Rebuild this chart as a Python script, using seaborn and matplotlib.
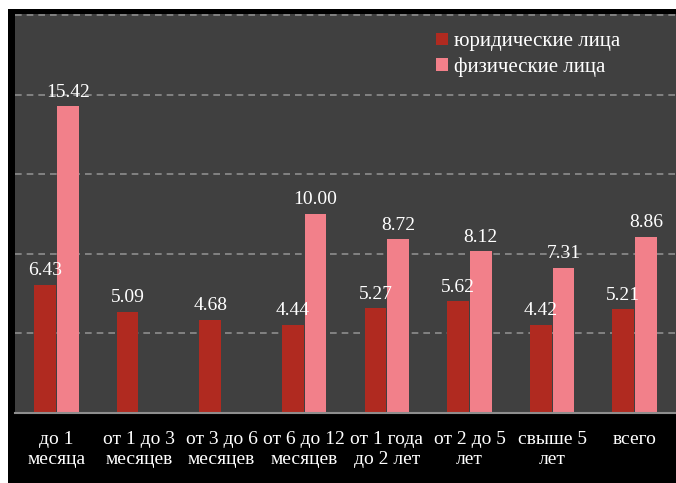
import numpy as np
import pandas as pd
import matplotlib
matplotlib.use("Agg")
import matplotlib.pyplot as plt
from matplotlib.patches import Rectangle
from matplotlib.ticker import FixedLocator
import seaborn as sns

# данные
categories = ["до 1\nмесяца", "от 1 до 3\nмесяцев", "от 3 до 6\nмесяцев", "от 6 до 12\nмесяцев",
              "от 1 года\nдо 2 лет", "от 2 до 5\nлет", "свыше 5\nлет", "всего"]
legal = [6.43, 5.09, 4.68, 4.44, 5.27, 5.62, 4.42, 5.21]
physical = [15.42, np.nan, np.nan, 10.00, 8.72, 8.12, 7.31, 8.86]
series_names = ["юридические лица", "физические лица"]

df = pd.DataFrame({
    "cat": categories * 2,
    "val": legal + physical,
    "series": [series_names[0]] * len(categories) + [series_names[1]] * len(categories),
})

sns.set_style("dark")
plt.rcParams["font.family"] = ["Liberation Serif", "DejaVu Serif"]

fig = plt.figure(figsize=(6.76, 4.83), dpi=100, facecolor="white")
fig.patches.append(Rectangle((8 / 676, 0), 1, 1 - 9 / 483, transform=fig.transFigure,
                             facecolor="black", edgecolor="none", zorder=-10))
ax = fig.add_axes([15 / 676, (483 - 413) / 483, 661 / 676, 399 / 483])
ax.set_facecolor("#404040")

palette = {series_names[0]: "#b02a20", series_names[1]: "#f2808a"}
sns.barplot(data=df, x="cat", y="val", hue="series", palette=palette, width=0.55,
            gap=0.04, saturation=1, ax=ax, edgecolor="none")

ax.set_ylim(0, 20.05)
ax.set_xlim(-0.5, len(categories) - 0.5)
ax.set_yticks([4, 8, 12, 16, 20])
ax.yaxis.grid(True, color="#8e8e8e", linestyle=(0, (4, 3)), linewidth=1.2)
ax.xaxis.grid(False)
ax.tick_params(axis="y", left=False, labelleft=False)
ax.tick_params(axis="x", which="major", length=0, colors="white", labelsize=14, pad=13)
ax.xaxis.set_minor_locator(FixedLocator(np.arange(-0.5, len(categories), 1)))
ax.tick_params(axis="x", which="minor", length=5, color="#8e8e8e", width=1.2)
for lbl in ax.get_xticklabels():
    lbl.set_color("white")
ax.set_xlabel("")
ax.set_ylabel("")
for s in ["top", "right", "left"]:
    ax.spines[s].set_visible(False)
ax.spines["bottom"].set_color("#8e8e8e")
ax.spines["bottom"].set_linewidth(1.5)

# подписи значений
for cont in ax.containers:
    labels = ["" if np.isnan(v) else f"{v:.2f}" for v in cont.datavalues]
    ax.bar_label(cont, labels=labels, color="white", fontsize=14, padding=4)

leg = ax.legend(loc="upper left", bbox_to_anchor=(0.625, 0.975), frameon=False,
                fontsize=15, handlelength=0.55, handleheight=0.55, handletextpad=0.3,
                labelspacing=0.3, borderaxespad=0)
for t in leg.get_texts():
    t.set_color("white")

fig.savefig("out.png", dpi=100, facecolor=fig.get_facecolor())
